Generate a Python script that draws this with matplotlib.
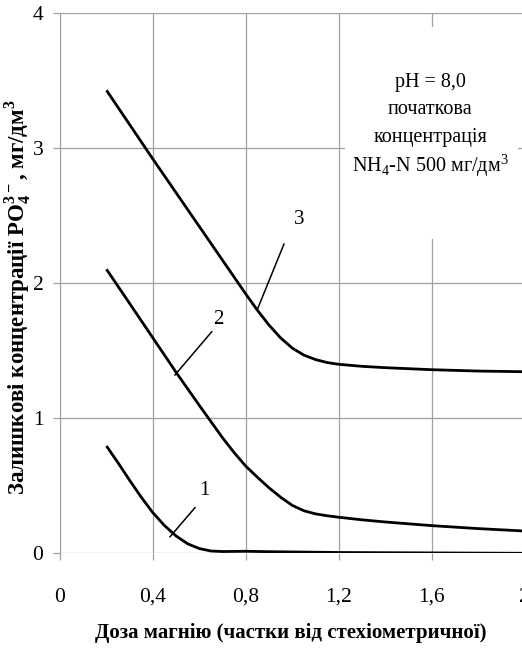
import matplotlib
matplotlib.use("Agg")
import matplotlib.pyplot as plt
from matplotlib.patches import Rectangle

plt.rcParams["font.family"] = ["Liberation Serif", "DejaVu Serif"]
plt.rcParams["mathtext.fontset"] = "custom"
plt.rcParams["mathtext.rm"] = "Liberation Serif"
plt.rcParams["mathtext.bf"] = "Liberation Serif:bold"

# дані
x1 = [0.2, 0.25, 0.3, 0.35, 0.4, 0.45, 0.5, 0.55, 0.6, 0.65, 0.7, 0.8, 0.9, 1.2, 1.6, 2.0]
y1 = [0.795, 0.67, 0.54, 0.415, 0.30, 0.205, 0.128, 0.07, 0.035, 0.017, 0.013,
      0.015, 0.012, 0.006, 0.003, 0.0]

x2 = [0.2, 0.3, 0.4, 0.5, 0.6, 0.7, 0.75, 0.8, 0.85, 0.9, 0.95, 1.0, 1.05, 1.1,
      1.15, 1.2, 1.3, 1.4, 1.6, 1.8, 2.0]
y2 = [2.104, 1.85, 1.595, 1.34, 1.095, 0.855, 0.745, 0.645, 0.563, 0.485, 0.415,
      0.355, 0.315, 0.292, 0.278, 0.267, 0.248, 0.232, 0.205, 0.183, 0.165]

x3 = [0.2, 0.3, 0.4, 0.5, 0.6, 0.7, 0.75, 0.8, 0.85, 0.9, 0.95, 1.0, 1.05, 1.1,
      1.15, 1.2, 1.3, 1.4, 1.6, 1.8, 2.0]
y3 = [3.43, 3.175, 2.92, 2.67, 2.42, 2.17, 2.045, 1.92, 1.80, 1.69, 1.595, 1.52,
      1.468, 1.435, 1.413, 1.40, 1.385, 1.375, 1.36, 1.35, 1.345]

xticks = [0, 0.4, 0.8, 1.2, 1.6, 2.0]
xticklabels = ["0", "0,4", "0,8", "1,2", "1,6", "2"]
yticks = [0, 1, 2, 3, 4]

# (підпис, точка тексту, початок і кінець виноски)
labels = [
    ("1", (0.62, 0.464), (0.581, 0.338), (0.474, 0.123)),
    ("2", (0.681, 1.733), (0.653, 1.641), (0.495, 1.321)),
    ("3", (1.029, 2.475), (0.964, 2.29), (0.848, 1.80)),
]

GRID = "#a0a0a0"

fig = plt.figure(figsize=(5.22, 6.49), dpi=100)
ax = fig.add_axes([60 / 522, 95.7 / 649, 464.6 / 522, 540 / 649])

for xs, ys in [(x1, y1), (x2, y2), (x3, y3)]:
    ax.plot(xs, ys, color="black", linewidth=2.0, zorder=3,
            solid_joinstyle="round", solid_capstyle="butt")

for txt, (tx, ty), (ax0, ay0), (ax1, ay1) in labels:
    ax.plot([ax0, ax1], [ay0, ay1], color="black", linewidth=1.1, zorder=3)
    ax.text(tx, ty, txt, fontsize=15, ha="center", va="center", zorder=4)

# біле поле під написом
ax.add_patch(Rectangle((1.227, 2.33), 0.745, 1.57, facecolor="white",
                       edgecolor="none", zorder=2))
box_lines = ["pH = 8,0", "початкова", "концентрація",
             r"NH$_\mathrm{4}$-N 500 мг/дм$^\mathrm{3}$"]
for i, line in enumerate(box_lines):
    ax.text(1.593, 3.49 - i * 0.205, line, fontsize=14.5, ha="center",
            va="center", zorder=4)

ax.set_xlim(0, 2)
ax.set_ylim(0, 4)
ax.set_xticks(xticks)
ax.set_xticklabels(xticklabels)
ax.set_yticks(yticks)
ax.grid(True, color=GRID, linewidth=0.9)
ax.set_axisbelow(True)
for s in ["top", "right", "bottom"]:
    ax.spines[s].set_visible(False)
ax.spines["left"].set_color(GRID)
ax.tick_params(axis="both", direction="out", length=5, color=GRID,
               labelsize=15.5, width=0.9)
ax.tick_params(axis="x", pad=20)
ax.tick_params(axis="y", pad=7)

fig.text(0.5 + 30 / 522, 1 - 633 / 649, "Доза магнію (частки від стехіометричної)",
         fontsize=15, fontweight="bold", ha="center", va="center")
fig.text(18 / 522, 1 - 297 / 649,
         r"Залишкові концентрації PO$_\mathbf{4}^\mathbf{3-}$, мг/дм$^\mathbf{3}$",
         fontsize=16.5, fontweight="bold", ha="center", va="center", rotation=90)

fig.savefig("out.png", dpi=100)
